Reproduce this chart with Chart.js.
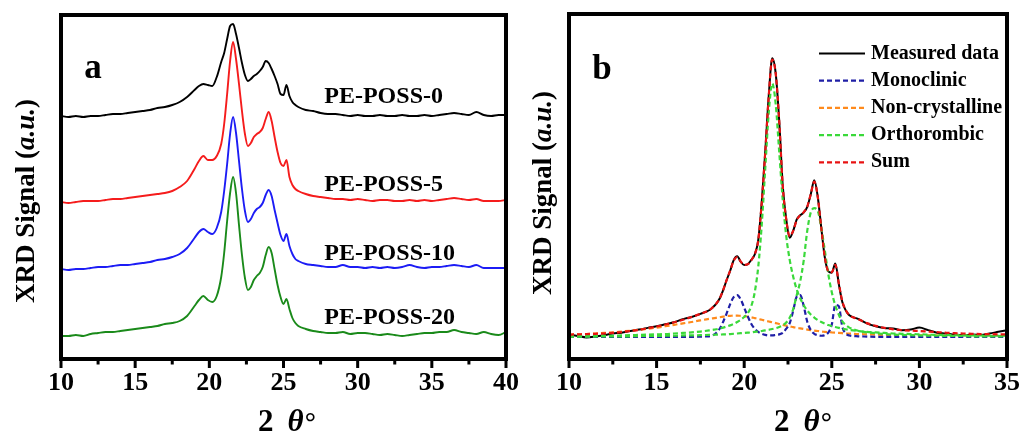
<!DOCTYPE html>
<html>
<head>
<meta charset="utf-8">
<script src="https://cdn.jsdelivr.net/npm/chart.js@4.4.0/dist/chart.umd.min.js"></script>
<style>
  body { margin: 0; background: #fff; width: 1029px; height: 443px; overflow: hidden; position: relative; }
  #wrap-a { position: absolute; left: 0; top: 0; width: 540px; height: 443px; }
  #wrap-b { position: absolute; left: 514px; top: 0; width: 515px; height: 443px; }
</style>
</head>
<body>
<div id="wrap-a"><canvas id="chart-a"></canvas></div>
<div id="wrap-b"><canvas id="chart-b"></canvas></div>
<script>
// ---- panel a : XRD patterns, offset curves ----
const thetaA = [10, 10.5, 11, 11.5, 12, 12.5, 13, 13.5, 14, 14.5, 15, 15.5, 16, 16.5, 17, 17.5, 18, 18.5, 19,
  19.3, 19.6, 19.9, 20.2, 20.5, 20.8,
  21, 21.2, 21.4, 21.6, 21.8, 22, 22.2, 22.4, 22.6, 22.8, 23, 23.2, 23.4, 23.6, 23.8, 24, 24.2, 24.4, 24.6, 24.8, 25, 25.2, 25.4, 25.6, 25.8, 26,
  26.5, 27, 27.5, 28, 28.5, 29, 29.5, 30, 30.5, 31, 31.5, 32, 32.5, 33, 33.5, 34, 34.5, 35, 35.5, 36, 36.5, 37, 37.5, 38, 38.5, 39, 39.5, 40];

const pePoss0 = [243, 242, 243, 242, 243, 243, 244, 245, 245, 246, 247, 248, 249, 251, 252, 254, 257, 262, 269,
  273, 275, 274, 273, 282, 297,
  306, 320, 333, 335, 325, 311, 296, 284, 278, 280, 283, 285, 288, 292, 298, 296, 290, 283, 275, 265, 264, 274, 263, 257, 254, 252,
  249, 248, 246, 245, 245, 244, 243, 244, 243, 243, 244, 243, 243, 244, 243, 243, 244, 243, 244, 245, 246, 245, 244, 247, 244, 243, 244, 244];

const pePoss5 = [157, 156, 157, 158, 158, 158, 159, 160, 160, 161, 162, 163, 164, 165, 166, 168, 172, 178, 190,
  198, 203, 199, 199, 203, 215,
  235, 265, 298, 317, 300, 275, 248, 225, 213, 216, 222, 225, 227, 231, 240, 247, 238, 222, 207, 196, 193, 199, 182, 174, 170, 168,
  165, 163, 162, 161, 160, 160, 159, 160, 159, 158, 159, 159, 158, 158, 159, 158, 159, 158, 159, 160, 161, 160, 159, 160, 158, 158, 158, 159];

const pePoss10 = [90, 89, 90, 90, 91, 92, 92, 93, 94, 94, 95, 96, 97, 99, 100, 102, 105, 111, 121,
  127, 130, 127, 125, 131, 147,
  168, 195, 225, 242, 226, 198, 170, 148, 137, 140, 146, 150, 152, 156, 164, 169, 163, 149, 136, 124, 118, 125, 113, 105, 100, 98,
  95, 94, 93, 92, 92, 94, 92, 92, 91, 92, 91, 92, 91, 92, 94, 92, 91, 92, 92, 93, 94, 93, 92, 94, 91, 91, 91, 91];

const pePoss20 = [23, 23, 24, 23, 25, 26, 27, 27, 28, 29, 30, 31, 32, 33, 35, 36, 38, 43, 53,
  59, 63, 59, 57, 63, 82,
  106, 138, 166, 182, 166, 134, 104, 81, 69, 72, 79, 83, 86, 92, 104, 112, 106, 90, 74, 62, 55, 60, 50, 41, 36, 33,
  30, 28, 27, 26, 26, 27, 25, 26, 26, 25, 24, 25, 24, 23, 24, 25, 26, 26, 27, 27, 29, 27, 26, 25, 27, 25, 24, 27];

const xTicksA = [10, 15, 20, 25, 30, 35, 40];

// ---- panel b : peak fit ----
const thetaB = [10, 10.5, 11, 11.5, 12, 12.5, 13, 13.5, 14, 14.5, 15, 15.5, 16, 16.5, 17, 17.5, 18,
  18.2, 18.4, 18.6, 18.8, 19, 19.2, 19.4, 19.6, 19.8, 20, 20.2, 20.4, 20.6, 20.8, 21, 21.2, 21.4, 21.6, 21.8, 22,
  22.2, 22.4, 22.6, 22.8, 23, 23.2, 23.4, 23.6, 23.8, 24, 24.2, 24.4, 24.6, 24.8, 25, 25.2, 25.4, 25.6, 25.8, 26,
  26.5, 27, 27.5, 28, 28.5, 29, 29.5, 30, 30.5, 31, 31.5, 32, 32.5, 33, 33.5, 34, 34.5, 35];

const measured = [0.9, 0.4, -0.1, 0.2, 0.7, 1.3, 1.6, 2.2, 2.7, 3.3, 3.9, 4.6, 5.3, 6.4, 7.2, 8.3, 9.6,
  10.6, 11.9, 13.8, 16.8, 20.4, 23.7, 27.5, 28.9, 26.9, 25.7, 26.0, 27.5, 29.5, 34.5, 48.0, 66.0, 86.0, 99.5, 94.0, 77.0,
  54.0, 42.0, 35.5, 38.0, 42.0, 43.5, 44.5, 46.5, 51.0, 56.0, 50.0, 39.0, 28.5, 23.5, 23.0, 26.3, 19.0, 12.5, 9.5, 7.8,
  6.5, 4.9, 3.9, 3.3, 3.1, 2.5, 2.7, 3.4, 2.5, 1.6, 1.3, 0.9, 0.7, 0.9, 0.8, 1.3, 1.9, 2.5];

const monoclinic = [0.1, 0.1, 0.1, 0.1, 0.1, 0.1, 0.1, 0.1, 0.1, 0.1, 0.1, 0.1, 0.1, 0.1, 0.1, 0.2, 0.3,
  0.6, 1.5, 3.0, 5.5, 8.5, 11.8, 14.3, 15.0, 13.5, 10.5, 7.5, 4.8, 3.0, 1.9, 1.2, 0.8, 0.6, 0.6, 0.8, 1.0,
  1.5, 3.0, 5.0, 9.5, 14.5, 15.0, 11.0, 5.5, 2.5, 1.2, 0.7, 0.5, 0.7, 1.6, 4.5, 11.5, 11.0, 3.7, 1.3, 0.6,
  0.3, 0.2, 0.1, 0.1, 0.1, 0.1, 0.1, 0.1, 0.1, 0.1, 0.1, 0.1, 0.1, 0.1, 0.1, 0.1, 0.1, 0.1];

const nonCrystalline = [0.9, 1.0, 1.1, 1.3, 1.5, 1.7, 2.0, 2.3, 2.6, 3.0, 3.4, 3.9, 4.4, 4.9, 5.4, 6.0, 6.5,
  6.7, 6.9, 7.1, 7.3, 7.5, 7.6, 7.7, 7.7, 7.6, 7.5, 7.3, 7.1, 6.8, 6.5, 6.2, 5.9, 5.6, 5.3, 5.0, 4.7,
  4.4, 4.1, 3.8, 3.6, 3.3, 3.1, 2.9, 2.7, 2.5, 2.3, 2.2, 2.0, 1.9, 1.8, 1.7, 1.6, 1.5, 1.4, 1.3, 1.3,
  1.1, 1.0, 0.9, 0.8, 0.8, 0.7, 0.7, 0.6, 0.6, 0.6, 0.5, 0.5, 0.5, 0.5, 0.4, 0.4, 0.4, 0.4];

const ortho110 = [0.3, 0.3, 0.4, 0.4, 0.5, 0.5, 0.6, 0.7, 0.8, 0.9, 1.0, 1.1, 1.3, 1.5, 1.7, 2.0, 2.4,
  2.6, 2.8, 3.1, 3.4, 3.8, 4.2, 4.7, 5.4, 6.2, 7.2, 8.5, 11.0, 16.0, 25.0, 40.0, 60.0, 80.0, 90.5, 83.0, 66.0,
  49.0, 36.0, 27.5, 21.5, 17.0, 13.8, 11.4, 9.5, 8.1, 7.0, 6.1, 5.4, 4.8, 4.3, 3.9, 3.6, 3.3, 3.0, 2.8, 2.6,
  2.2, 1.9, 1.7, 1.5, 1.3, 1.2, 1.1, 1.0, 0.9, 0.8, 0.8, 0.7, 0.7, 0.6, 0.6, 0.5, 0.5, 0.5];

const ortho200 = [0.2, 0.2, 0.2, 0.2, 0.3, 0.3, 0.3, 0.3, 0.4, 0.4, 0.4, 0.5, 0.5, 0.6, 0.6, 0.7, 0.8,
  0.8, 0.9, 0.9, 1.0, 1.0, 1.1, 1.2, 1.3, 1.4, 1.5, 1.6, 1.7, 1.9, 2.0, 2.2, 2.4, 2.6, 2.9, 3.2, 3.6,
  4.2, 5.2, 7.0, 10.0, 15.0, 20.0, 27.5, 38.0, 44.5, 46.0, 45.0, 39.0, 31.0, 22.5, 16.0, 11.3, 8.0, 5.6, 4.3, 3.4,
  2.3, 1.7, 1.4, 1.1, 0.9, 0.8, 0.7, 0.6, 0.5, 0.5, 0.4, 0.4, 0.4, 0.3, 0.3, 0.3, 0.3, 0.3];

const fitSum = [0.9, 1.0, 1.1, 1.2, 1.3, 1.5, 1.8, 2.2, 2.6, 3.2, 3.8, 4.5, 5.3, 6.2, 7.2, 8.3, 9.6,
  10.6, 11.9, 13.8, 16.8, 20.4, 23.8, 27.3, 28.6, 27.0, 25.8, 26.0, 27.4, 29.6, 34.5, 48.0, 66.0, 86.0, 99.0, 94.0, 77.0,
  54.0, 42.0, 36.0, 38.0, 41.8, 43.5, 44.6, 46.6, 51.0, 55.5, 50.0, 39.0, 28.6, 23.6, 23.2, 25.8, 19.2, 12.8, 9.6, 7.9,
  6.4, 5.0, 4.0, 3.3, 2.8, 2.5, 2.3, 2.2, 2.0, 1.8, 1.6, 1.4, 1.3, 1.2, 1.1, 1.1, 1.0, 1.0];

const xTicksB = [10, 15, 20, 25, 30, 35];

const SERIF = '"Liberation Serif", "Times New Roman", serif';

function pts(xs, ys) {
  return xs.map((x, i) => ({ x: x, y: ys[i] }));
}

function drawRuns(ctx, runs, cx, y) {
  let w = 0;
  runs.forEach(r => { ctx.font = r.f; r.w = ctx.measureText(r.t).width + (r.after || 0); w += r.w; });
  let x = cx - w / 2;
  ctx.textAlign = 'left';
  runs.forEach(r => { ctx.font = r.f; ctx.fillText(r.t, x, y + (r.dy || 0)); x += r.w; });
}

// box frame + outward ticks on the bottom axis
const framePlugin = {
  id: 'frame',
  afterDatasetsDraw(chart) {
    const { ctx, chartArea: a } = chart;
    const xs = chart.scales.x;
    ctx.save();
    ctx.strokeStyle = '#000';
    ctx.lineWidth = 4;
    ctx.strokeRect(a.left, a.top, a.right - a.left, a.bottom - a.top);
    ctx.lineWidth = 3;
    ctx.beginPath();
    const tv = xs.ticks.map(t => t.value);
    tv.forEach((v, i) => {
      const px = xs.getPixelForValue(v);
      ctx.moveTo(px, a.bottom);
      ctx.lineTo(px, a.bottom + 9);
      if (i < tv.length - 1) {
        const mx = xs.getPixelForValue((v + tv[i + 1]) / 2);
        ctx.moveTo(mx, a.bottom);
        ctx.lineTo(mx, a.bottom + 5.5);
      }
    });
    ctx.stroke();
    ctx.restore();
  }
};

// panel letter, axis titles, curve labels, inside legend
const textPlugin = {
  id: 'panelText',
  afterDraw(chart, args, o) {
    const ctx = chart.ctx;
    const xs = chart.scales.x, ys = chart.scales.y;
    ctx.save();
    ctx.fillStyle = '#000';
    ctx.textBaseline = 'alphabetic';
    ctx.textAlign = 'center';
    ctx.font = 'bold 35px ' + SERIF;
    ctx.fillText(o.letter, o.letterX, o.letterY);

    drawRuns(ctx, [
      { t: '2', f: 'bold 31px ' + SERIF, after: 14 },
      { t: 'θ', f: 'italic bold 31px ' + SERIF, after: 1 },
      { t: '°', f: 'bold 28px ' + SERIF }
    ], o.xTitleX, o.xTitleY);

    ctx.save();
    ctx.translate(o.yTitleX, o.yTitleY);
    ctx.rotate(-Math.PI / 2);
    drawRuns(ctx, [
      { t: 'XRD Signal (', f: 'bold 27px ' + SERIF },
      { t: 'a.u.', f: 'italic bold 27px ' + SERIF },
      { t: ')', f: 'bold 27px ' + SERIF }
    ], 0, 0);
    ctx.restore();

    // labels next to curves
    ctx.font = 'bold 24px ' + SERIF;
    ctx.textAlign = 'left';
    ctx.textBaseline = 'middle';
    chart.data.datasets.forEach(ds => {
      if (!ds.labelAt) return;
      ctx.fillText(ds.label, xs.getPixelForValue(ds.labelAt[0]), ys.getPixelForValue(ds.labelAt[1]));
    });

    // legend inside plot
    if (o.legend) {
      const L = o.legend;
      ctx.font = 'bold 20px ' + SERIF;
      let row = 0;
      chart.data.datasets.forEach(ds => {
        if (ds.inLegend === false) return;
        const y = L.top + row * L.gap;
        ctx.strokeStyle = ds.borderColor;
        ctx.lineWidth = ds.borderWidth;
        ctx.setLineDash(ds.borderDash || []);
        ctx.beginPath();
        ctx.moveTo(L.x, y);
        ctx.lineTo(L.x + L.len, y);
        ctx.stroke();
        ctx.setLineDash([]);
        ctx.fillStyle = '#000';
        ctx.fillText(ds.label, L.x + L.len + 6, y);
        row++;
      });
    }
    ctx.restore();
  }
};

function xAxis(min, max, tickList) {
  return {
    type: 'linear', min: min, max: max,
    afterBuildTicks: s => { s.ticks = tickList.map(v => ({ value: v })); },
    afterFit: s => { s.height = 84; },
    ticks: { font: { family: SERIF, size: 26, weight: 'bold' }, color: '#000', padding: 9, maxRotation: 0, autoSkip: false },
    grid: { display: false, drawTicks: false },
    border: { display: false }
  };
}

const common = {
  responsive: true,
  maintainAspectRatio: false,
  animation: false,
  events: [],
  elements: { point: { radius: 0 }, line: { cubicInterpolationMode: 'monotone' } }
};

new Chart(document.getElementById('chart-a'), {
  type: 'line',
  data: {
    datasets: [
      { label: 'PE-POSS-0', data: pts(thetaA, pePoss0), borderColor: '#000000', borderWidth: 1.9, labelAt: [27.75, 262] },
      { label: 'PE-POSS-5', data: pts(thetaA, pePoss5), borderColor: '#f51c1c', borderWidth: 1.9, labelAt: [27.75, 174] },
      { label: 'PE-POSS-10', data: pts(thetaA, pePoss10), borderColor: '#1c1cf5', borderWidth: 1.9, labelAt: [27.75, 105] },
      { label: 'PE-POSS-20', data: pts(thetaA, pePoss20), borderColor: '#1a8a1a', borderWidth: 1.9, labelAt: [27.75, 41] }
    ]
  },
  options: Object.assign({}, common, {
    layout: { padding: { left: 61, right: 34, top: 15, bottom: 0 } },
    scales: {
      x: xAxis(10, 40, xTicksA),
      y: { display: false, min: 0, max: 344 }
    },
    plugins: {
      legend: { display: false },
      tooltip: { enabled: false },
      panelText: { letter: 'a', letterX: 93, letterY: 78, xTitleX: 287, xTitleY: 431, yTitleX: 33.5, yTitleY: 201 }
    }
  }),
  plugins: [framePlugin, textPlugin]
});

new Chart(document.getElementById('chart-b'), {
  type: 'line',
  data: {
    datasets: [
      { label: 'Measured data', data: pts(thetaB, measured), borderColor: '#000000', borderWidth: 2, order: 10 },
      { label: 'Monoclinic', data: pts(thetaB, monoclinic), borderColor: '#1f1fa6', borderWidth: 2.2, borderDash: [5, 3], order: 4 },
      { label: 'Non-crystalline', data: pts(thetaB, nonCrystalline), borderColor: '#ff8a1c', borderWidth: 2.2, borderDash: [5, 3], order: 5 },
      { label: 'Orthorombic', data: pts(thetaB, ortho110), borderColor: '#3ad93a', borderWidth: 2.2, borderDash: [5, 3], order: 3 },
      { label: 'Orthorombic', data: pts(thetaB, ortho200), borderColor: '#3ad93a', borderWidth: 2.2, borderDash: [5, 3], order: 3, inLegend: false },
      { label: 'Sum', data: pts(thetaB, fitSum), borderColor: '#e81212', borderWidth: 2.2, borderDash: [5, 3], order: 0 }
    ]
  },
  options: Object.assign({}, common, {
    layout: { padding: { left: 55, right: 18, top: 14, bottom: 0 } },
    scales: {
      x: xAxis(10, 35, xTicksB),
      y: { display: false, min: -7.8, max: 115.3 }
    },
    plugins: {
      legend: { display: false },
      tooltip: { enabled: false },
      panelText: {
        letter: 'b', letterX: 88, letterY: 79, xTitleX: 289, xTitleY: 431, yTitleX: 37, yTitleY: 193,
        legend: { x: 305, len: 46, top: 53.5, gap: 27.2 }
      }
    }
  }),
  plugins: [framePlugin, textPlugin]
});
</script>
</body>
</html>
